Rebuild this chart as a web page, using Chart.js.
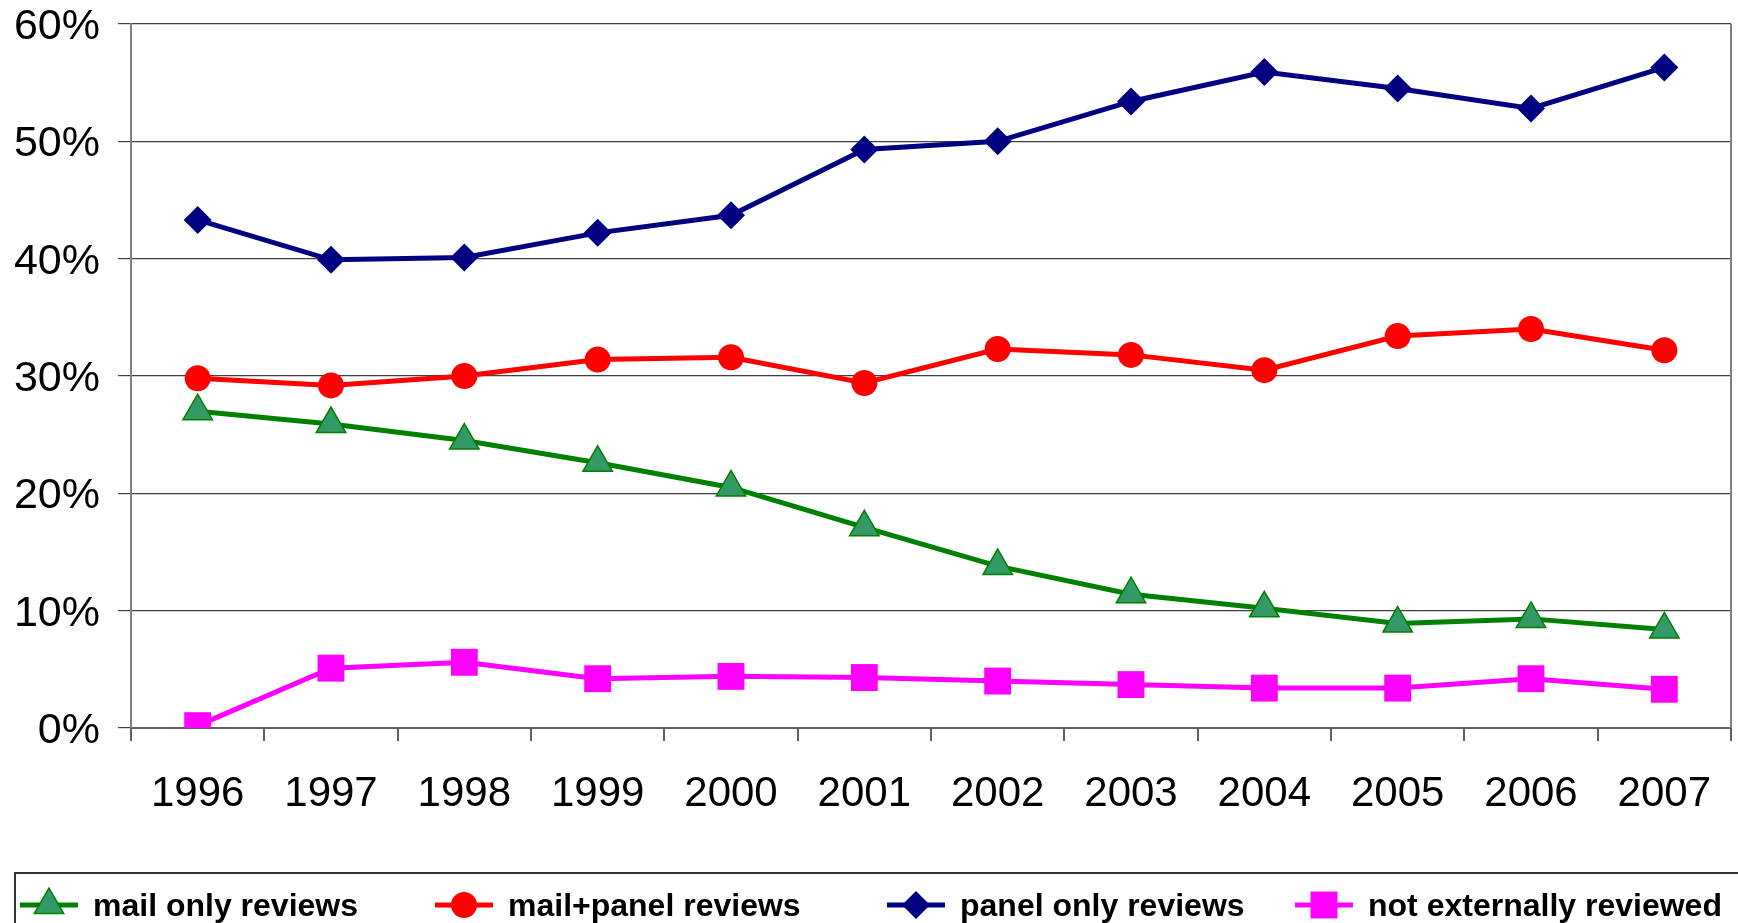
<!DOCTYPE html>
<html lang="en">
<head>
  <meta charset="UTF-8" />
  <title>Review type by year</title>
  <script src="https://cdn.jsdelivr.net/npm/chart.js"></script>
  <style>
    html, body { margin: 0; padding: 0; background: #fff; }
    .wrap { position: relative; width: 1738px; height: 923px; overflow: hidden; }
    #reviewChart { position: absolute; left: 0; top: 0; }
    /* legend box: only the top and left edges are visible in the picture */
    .legend {
      position: absolute; left: 14px; top: 872px; width: 1760px; height: 80px;
      border-top: 2px solid #333; border-left: 2px solid #333;
    }
    .legend-item {
      position: absolute; top: 11px; display: flex; align-items: center;
      font: bold 32px "Liberation Sans", Arial, sans-serif; color: #000; white-space: nowrap;
    }
    .legend-item canvas { margin-right: 15px; }
  </style>
</head>
<body>
  <div class="wrap">
    <canvas id="reviewChart" width="1738" height="923"></canvas>
    <div class="legend" id="legend"></div>
  </div>

  <script>
    const years = ["1996", "1997", "1998", "1999", "2000", "2001", "2002", "2003", "2004", "2005", "2006", "2007"];

    // percentages
    const mailOnly    = [27.0, 25.9, 24.5, 22.6, 20.5, 17.1, 13.8, 11.4, 10.2, 8.9, 9.3, 8.4];
    const mailPanel   = [29.8, 29.2, 30.0, 31.4, 31.6, 29.4, 32.3, 31.8, 30.5, 33.4, 34.0, 32.2];
    const panelOnly   = [43.3, 39.9, 40.1, 42.2, 43.7, 49.3, 50.0, 53.4, 55.9, 54.5, 52.8, 56.3];
    const notExternal = [0.2, 5.1, 5.6, 4.2, 4.4, 4.3, 4.0, 3.7, 3.4, 3.4, 4.2, 3.3];

    const seriesLabels = ["mail only reviews", "mail+panel reviews", "panel only reviews", "not externally reviewed"];
    const yMax = 60;
    const yStep = 10;

    const FONT = '"Liberation Sans", Arial, sans-serif';

    // style per series (same order as seriesLabels)
    const styles = [
      { line: "#008000", fill: "#339966", border: "#008000", shape: "triangle", r: 17, bw: 1.5 },
      { line: "#ff0000", fill: "#ff0000", border: "#ff0000", shape: "circle",   r: 13, bw: 0 },
      { line: "#000080", fill: "#000080", border: "#000080", shape: "rectRot",  r: 14, bw: 0 },
      { line: "#ff00ff", fill: "#ff00ff", border: "#ff00ff", shape: "rect",     r: 19, bw: 0 }
    ];
    const seriesData = [mailOnly, mailPanel, panelOnly, notExternal];

    // right-hand frame line of the plot area
    const frameRight = {
      id: "frameRight",
      beforeDatasetsDraw(chart) {
        const { ctx, chartArea: a } = chart;
        ctx.save();
        ctx.strokeStyle = "#808080";
        ctx.lineWidth = 2;
        ctx.beginPath();
        ctx.moveTo(a.right, a.top);
        ctx.lineTo(a.right, a.bottom);
        ctx.stroke();
        ctx.restore();
      }
    };

    const ctx = document.getElementById("reviewChart").getContext("2d");
    new Chart(ctx, {
      type: "line",
      data: {
        labels: years,
        datasets: seriesData.map((d, i) => ({
          label: seriesLabels[i],
          data: d,
          borderColor: styles[i].line,
          borderWidth: 5,
          backgroundColor: styles[i].fill,
          pointBackgroundColor: styles[i].fill,
          pointBorderColor: styles[i].border,
          pointBorderWidth: styles[i].bw,
          pointStyle: styles[i].shape,
          pointRadius: styles[i].r,
          pointHoverRadius: styles[i].r,
          tension: 0,
          fill: false
        }))
      },
      options: {
        responsive: false,
        animation: false,
        layout: { autoPadding: false, padding: 0 },
        plugins: {
          legend: { display: false },
          tooltip: { enabled: false }
        },
        scales: {
          x: {
            offset: true,
            grid: { offset: true, drawOnChartArea: false, drawTicks: true, tickLength: 13, color: "#606060", lineWidth: 2 },
            border: { display: true, color: "#606060", width: 2 },
            ticks: { color: "#000", font: { family: FONT, size: 42 }, padding: 28, maxRotation: 0, autoSkip: false },
            afterFit: (s) => {
              s.height = 923 - 728;
              s.paddingLeft = 0;
              s.paddingRight = 7;
            }
          },
          y: {
            min: 0,
            max: yMax,
            ticks: { stepSize: yStep, color: "#000", font: { family: FONT, size: 43 }, padding: 18, labelOffset: 3, callback: (v) => v + "%" },
            grid: { color: "#404040", lineWidth: 1.2, drawTicks: true, tickLength: 13 },
            border: { display: true, color: "#808080", width: 2 },
            afterFit: (s) => {
              s.width = 131;
              s.paddingTop = 24;
              s.paddingBottom = 0;
            }
          }
        }
      },
      plugins: [frameRight]
    });

    // HTML legend with a line + marker swatch for each series
    const legendLeft = [4, 419, 871, 1279];
    function drawSwatch(c, st) {
      const g = c.getContext("2d");
      const cx = c.width / 2, cy = c.height / 2, r = st.r;
      g.strokeStyle = st.line;
      g.lineWidth = 5;
      g.beginPath();
      g.moveTo(0, cy);
      g.lineTo(c.width, cy);
      g.stroke();
      g.fillStyle = st.fill;
      g.strokeStyle = st.border;
      g.lineWidth = st.bw;
      g.beginPath();
      if (st.shape === "triangle") {
        g.moveTo(cx, cy - r);
        g.lineTo(cx + r * Math.sqrt(3) / 2, cy + r / 2);
        g.lineTo(cx - r * Math.sqrt(3) / 2, cy + r / 2);
        g.closePath();
      } else if (st.shape === "circle") {
        g.arc(cx, cy, r, 0, Math.PI * 2);
      } else if (st.shape === "rectRot") {
        g.moveTo(cx, cy - r);
        g.lineTo(cx + r, cy);
        g.lineTo(cx, cy + r);
        g.lineTo(cx - r, cy);
        g.closePath();
      } else {
        const h = r * Math.SQRT1_2;
        g.rect(cx - h, cy - h, 2 * h, 2 * h);
      }
      g.fill();
      if (st.bw > 0) g.stroke();
    }

    const legendEl = document.getElementById("legend");
    seriesLabels.forEach((label, i) => {
      const item = document.createElement("div");
      item.className = "legend-item";
      item.style.left = legendLeft[i] + "px";
      const sw = document.createElement("canvas");
      sw.width = 58;
      sw.height = 40;
      drawSwatch(sw, styles[i]);
      const txt = document.createElement("span");
      txt.textContent = label;
      item.appendChild(sw);
      item.appendChild(txt);
      legendEl.appendChild(item);
    });
  </script>
</body>
</html>
